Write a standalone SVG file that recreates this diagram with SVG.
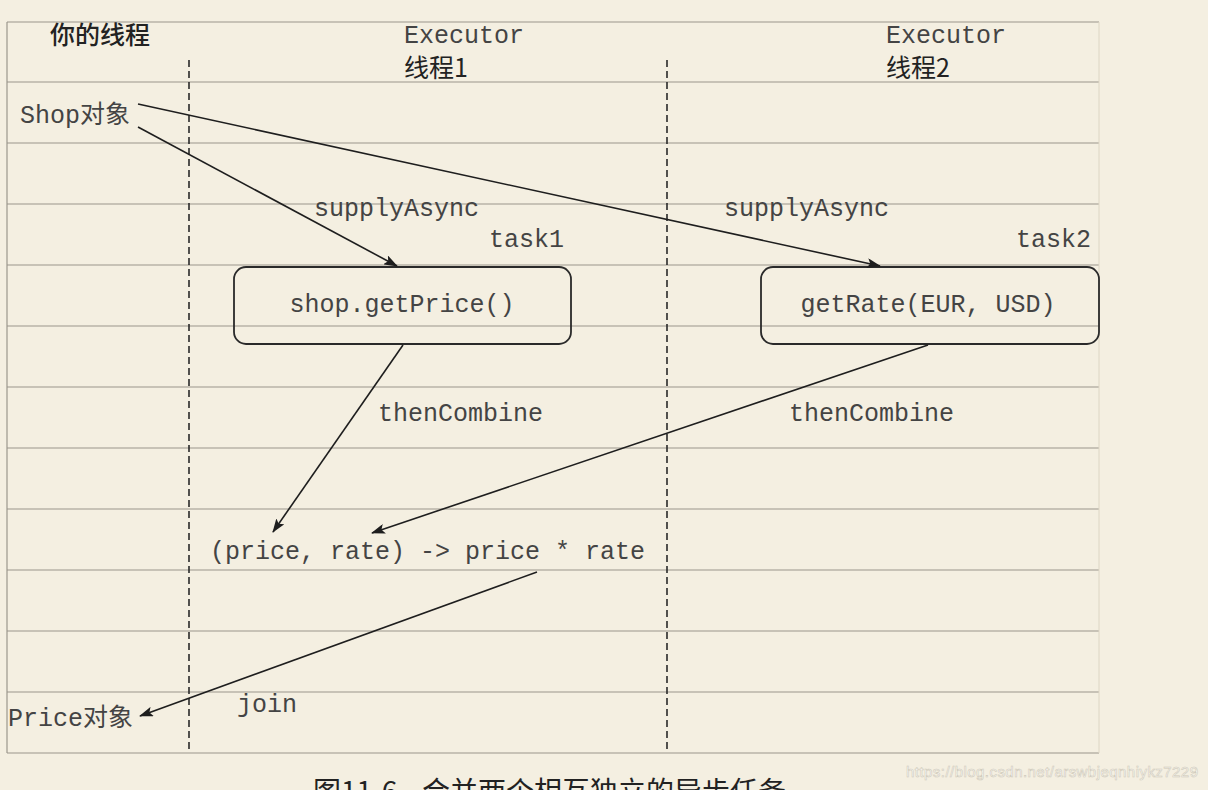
<svg xmlns="http://www.w3.org/2000/svg" width="1208" height="790" viewBox="0 0 1208 790">
<style>
.grid{stroke:#9a968c;stroke-width:1.2;fill:none}
.dash{stroke:#2a2a2a;stroke-width:1.6;stroke-dasharray:7 4;fill:none}
.mono{font-family:"Liberation Mono","Noto Sans CJK SC",monospace;font-size:25px;fill:#444}
.cjk{font-family:"Noto Sans CJK SC",sans-serif;font-size:24px;fill:#222}
.cap{font-family:"Noto Sans CJK SC",serif;font-size:28px;fill:#222}
.box{fill:none;stroke:#2a2a2a;stroke-width:1.8}
.conn{stroke:#1e1e1e;stroke-width:1.6;fill:none;marker-end:url(#ah)}
</style>
<defs>
<marker id="ah" viewBox="0 0 14 10" refX="13" refY="5" markerWidth="14" markerHeight="10" markerUnits="userSpaceOnUse" orient="auto">
<path d="M0,0 L14,5 L0,10 L3,5 Z" fill="#1e1e1e"/>
</marker>
</defs>
<rect width="1208" height="790" fill="#f4efe1"/>
<g id="grid">
<line class="grid" x1="7" y1="22" x2="1099" y2="22"/>
<line class="grid" x1="7" y1="82" x2="1099" y2="82"/>
<line class="grid" x1="7" y1="143" x2="1099" y2="143"/>
<line class="grid" x1="7" y1="204" x2="1099" y2="204"/>
<line class="grid" x1="7" y1="265" x2="1099" y2="265"/>
<line class="grid" x1="7" y1="326" x2="1099" y2="326"/>
<line class="grid" x1="7" y1="387" x2="1099" y2="387"/>
<line class="grid" x1="7" y1="448" x2="1099" y2="448"/>
<line class="grid" x1="7" y1="509" x2="1099" y2="509"/>
<line class="grid" x1="7" y1="570" x2="1099" y2="570"/>
<line class="grid" x1="7" y1="631" x2="1099" y2="631"/>
<line class="grid" x1="7" y1="692" x2="1099" y2="692"/>
<line class="grid" x1="7" y1="753" x2="1099" y2="753"/>
<line class="grid" x1="7" y1="22" x2="7" y2="753"/>
<line x1="1099" y1="22" x2="1099" y2="753" stroke="#ddd6c4" stroke-width="1"/>
<line class="dash" x1="189" y1="60" x2="189" y2="753"/>
<line class="dash" x1="667" y1="60" x2="667" y2="753"/>
</g>
<g id="headers">
<text class="cjk" x="50" y="44" style="font-size:25px;font-weight:500">你的线程</text>
<text class="mono" x="404" y="43">Executor</text>
<text class="cjk" x="404" y="77" style="font-size:25px">线程1</text>
<text class="mono" x="886" y="43">Executor</text>
<text class="cjk" x="886" y="77" style="font-size:25px">线程2</text>
</g>
<g id="shop">
<text class="mono" x="20" y="123">Shop对象</text>
</g>
<g id="task1">
<rect class="box" x="234" y="267" width="337" height="77" rx="12"/>
<text class="mono" x="402" y="312" text-anchor="middle">shop.getPrice()</text>
<text class="mono" x="489" y="247">task1</text>
</g>
<g id="task2">
<rect class="box" x="761" y="267" width="338" height="77" rx="12"/>
<text class="mono" x="928" y="312" text-anchor="middle">getRate(EUR, USD)</text>
<text class="mono" x="1016" y="247">task2</text>
</g>
<g id="combine">
<text class="mono" x="210" y="559">(price, rate) -&gt; price * rate</text>
</g>
<g id="price">
<text class="mono" x="8" y="726">Price对象</text>
</g>
<g id="connectors">
<line class="conn" x1="138" y1="127" x2="397" y2="266"/>
<line class="conn" x1="138" y1="104" x2="880" y2="266"/>
<line class="conn" x1="403" y1="345" x2="273" y2="532"/>
<line class="conn" x1="928" y1="345" x2="372" y2="533"/>
<line class="conn" x1="537" y1="572" x2="140" y2="716"/>
<text class="mono" x="314" y="216">supplyAsync</text>
<text class="mono" x="724" y="216">supplyAsync</text>
<text class="mono" x="378" y="421">thenCombine</text>
<text class="mono" x="789" y="421">thenCombine</text>
<text class="mono" x="237" y="712">join</text>
</g>
<g id="caption">
<text class="cap" x="313" y="802">图11-6</text>
<text class="cap" x="422" y="802">合并两个相互独立的异步任务</text>
</g>
<text x="906" y="777" textLength="292" style="font-family:'Liberation Sans',sans-serif;font-size:15px;fill:#ffffff;stroke:#cfc9b8;stroke-width:0.6">https://blog.csdn.net/arswbjeqnhiykz7229</text>
</svg>
